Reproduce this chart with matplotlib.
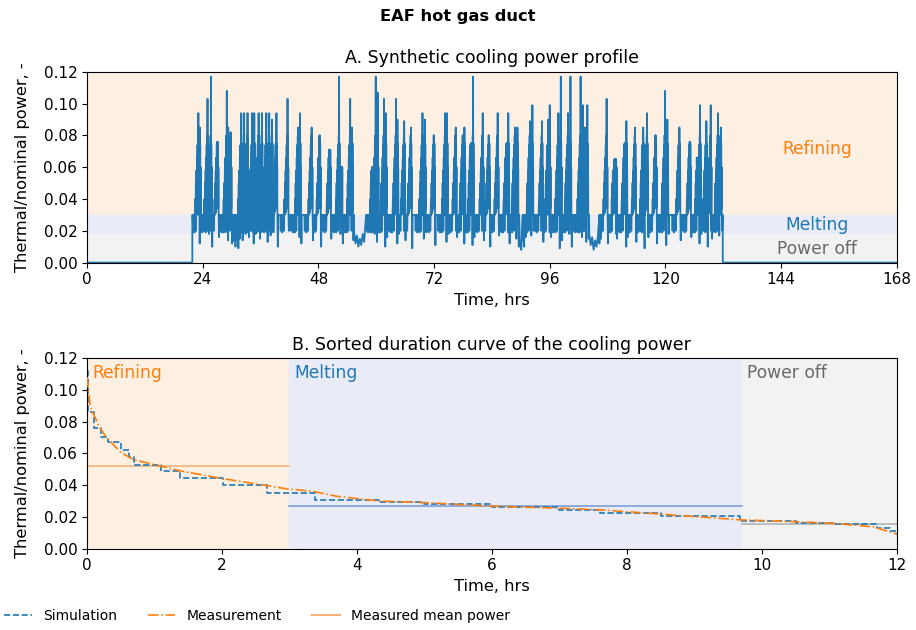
import numpy as np
import matplotlib
matplotlib.use("Agg")
import matplotlib.pyplot as plt
from matplotlib.lines import Line2D

plt.rcParams['font.size'] = 11

# --- A. synthetic profile: refining peaks (hrs, thermal/nominal)
spike_t = [23.1, 23.4, 25.0, 25.7, 27.1, 29.0, 29.3, 29.8,
           32.0, 32.6, 33.3, 34.3, 34.7, 35.6, 36.3, 37.2, 37.8, 38.4, 39.3,
           41.6, 43.8, 44.2, 46.6, 48.3, 50.4, 52.3, 52.8, 54.6, 55.0,
           59.4, 59.9, 60.3, 61.6, 62.0, 64.1, 64.4, 65.8, 67.2, 69.6, 70.1,
           72.0, 74.3, 74.7, 76.5, 78.0, 78.3, 79.7, 80.1, 82.1, 83.4, 85.2,
           87.1, 87.4, 88.8, 89.3, 91.9, 92.4, 94.4, 95.7, 96.0, 97.8, 98.3,
           99.8, 100.3, 102.4, 102.9, 103.3, 103.8,
           107.8, 109.5, 109.7, 111.6, 111.9, 113.7, 115.4, 116.2, 118.0,
           119.9, 120.4, 122.9, 125.1, 126.8, 127.2, 128.5, 129.4, 130.9, 131.5]
spike_peak = [0.094, 0.085, 0.103, 0.117, 0.076, 0.108, 0.085, 0.082,
              0.094, 0.094, 0.094, 0.094, 0.094, 0.094, 0.094, 0.094, 0.094, 0.090, 0.094,
              0.103, 0.085, 0.094, 0.085, 0.080, 0.071, 0.117, 0.060, 0.103, 0.085,
              0.060, 0.117, 0.107, 0.103, 0.094, 0.103, 0.090, 0.089, 0.085, 0.094, 0.090,
              0.080, 0.094, 0.094, 0.085, 0.080, 0.085, 0.075, 0.117, 0.094, 0.080, 0.094,
              0.075, 0.094, 0.085, 0.085, 0.089, 0.099, 0.089, 0.090, 0.099, 0.094, 0.117,
              0.094, 0.117, 0.117, 0.099, 0.085, 0.099,
              0.103, 0.058, 0.065, 0.075, 0.089, 0.085, 0.085, 0.094, 0.080,
              0.108, 0.090, 0.085, 0.076, 0.066, 0.099, 0.089, 0.099, 0.094, 0.085]
spike_dip = [0.012, 0.020, 0.018, 0.010, 0.016, 0.014, 0.020, 0.012,
             0.014, 0.018, 0.016, 0.012, 0.018, 0.015, 0.020, 0.013, 0.017, 0.019, 0.010,
             0.020, 0.016, 0.012, 0.014, 0.010, 0.015, 0.018, 0.012, 0.020, 0.014,
             0.018, 0.013, 0.019, 0.010, 0.016, 0.012, 0.018, 0.014, 0.009, 0.015, 0.019,
             0.011, 0.013, 0.018, 0.016, 0.012, 0.019, 0.011, 0.016, 0.014, 0.010, 0.017,
             0.019, 0.012, 0.015, 0.010, 0.017, 0.020, 0.013, 0.019, 0.016, 0.009, 0.014,
             0.018, 0.010, 0.016, 0.020, 0.013, 0.015,
             0.012, 0.018, 0.015, 0.010, 0.016, 0.013, 0.009, 0.016, 0.012,
             0.011, 0.018, 0.014, 0.016, 0.012, 0.018, 0.010, 0.015, 0.017, 0.020]
# idle stretches between sequences (low power)
idle_t = [30.2, 30.5, 30.8, 31.1, 31.4, 31.7,
          55.4, 55.7, 56.0, 56.3, 56.6, 56.9, 57.2, 57.5,
          89.8, 90.1, 90.4, 90.7, 91.0,
          104.2, 104.5, 104.8, 105.1, 105.4, 105.7, 106.0, 106.3, 106.6, 107.0]
idle_v = [0.013, 0.016, 0.010, 0.014, 0.009, 0.015,
          0.020, 0.012, 0.017, 0.010, 0.015, 0.011, 0.018, 0.013,
          0.012, 0.008, 0.014, 0.010, 0.016,
          0.018, 0.011, 0.016, 0.008, 0.014, 0.010, 0.017, 0.012, 0.015, 0.020]
run_on, run_off = 21.85, 131.9

# shape of one heat around its refining peak (hrs offset, level); None -> peak, 'dip' -> dip
heat_shape = [(-1.5, 0.03), (-1.42, 0.02), (-1.34, 0.03), (-1.26, 0.022), (-1.18, 0.03),
              (-1.1, 0.019), (-1.02, 0.03), (-0.94, 0.021), (-0.86, 0.03), (-0.78, 0.02),
              (-0.7, 0.03), (-0.64, 0.04), (-0.58, 0.03), (-0.52, 0.05), (-0.46, 0.031),
              (-0.4, 0.058), (-0.35, 0.032), (-0.29, 0.066), (-0.24, 0.034), (-0.18, 0.074),
              (-0.13, 0.036), (-0.07, 0.08), (-0.03, 0.04), (0.0, None), (0.04, 0.036),
              (0.08, 0.075), (0.12, 0.034), (0.16, 0.06), (0.2, 0.03), (0.28, 'dip'),
              (0.36, 0.03)]

# --- B. sorted duration curves
meas_t = [0, 0.05, 0.19, 0.29, 0.49, 0.69, 0.89, 1.38, 1.97, 2.47, 2.96, 3.36, 3.7,
          4.34, 5.0, 6.0, 7.0, 7.6, 8.5, 9.67, 10.5, 11.05, 11.65, 12]
meas_v = [0.108, 0.089, 0.076, 0.070, 0.061, 0.056, 0.054, 0.049, 0.0444, 0.041, 0.0377,
          0.036, 0.033, 0.030, 0.029, 0.0268, 0.0255, 0.0245, 0.0218, 0.0182, 0.017,
          0.016, 0.0138, 0.0092]
sim_t = [0, 0.02, 0.1, 0.2, 0.31, 0.5, 0.62, 0.69, 1.09, 1.38, 2.02, 2.66, 3.38, 4.34,
         5.0, 6.0, 7.0, 7.6, 8.5, 9.67, 10.5, 11.05, 11.7, 11.9, 12]
sim_v = [0.112, 0.086, 0.076, 0.070, 0.067, 0.062, 0.058, 0.0528, 0.0486, 0.0444, 0.0398,
         0.035, 0.0304, 0.0295, 0.028, 0.0262, 0.0245, 0.0224, 0.0205, 0.0176, 0.0162,
         0.0155, 0.013, 0.011, 0.0084]
mode_names = ['Refining', 'Melting', 'Power off']
mode_span = [(0, 3.0), (3.0, 9.7), (9.7, 12)]
mode_mean = [0.052, 0.0266, 0.0157]
mode_level = [(0.03, 0.12), (0.018, 0.03), (0, 0.018)]

band_col = ['#fdf0e3', '#e9ecf6', '#f2f2f2']
text_col = ['C1', 'C0', 'dimgray']
mean_col = ['#f6b27a', '#7d9fd9', '#b3b3b3']

# build the profile polyline
pts = [(0, 0), (run_on, 0), (run_on, 0.03)]
for t, p, d in zip(spike_t, spike_peak, spike_dip):
    for off, lvl in heat_shape:
        if lvl is None:
            v = p
        elif lvl == 'dip':
            v = d
        else:
            v = min(lvl, p)
        if t + off > run_on:
            pts.append((t + off, v))
pts += list(zip(idle_t, idle_v))
pts.sort(key=lambda q: q[0])
pts += [(run_off, 0.03), (run_off, 0), (168, 0)]
prof_t = [q[0] for q in pts]
prof_v = [q[1] for q in pts]

fig, (ax1, ax2) = plt.subplots(2, 1, figsize=(9.16, 6.3), dpi=100)
fig.subplots_adjust(left=0.095, right=0.979, top=0.886, bottom=0.129, hspace=0.5)
fig.suptitle('EAF hot gas duct', fontweight='bold', fontsize=11.7, y=0.985)

for (lo, hi), c in zip(mode_level, band_col):
    ax1.axhspan(lo, hi, color=c, zorder=0)
ax1.plot(prof_t, prof_v, color='C0', lw=1.3)
ax1.text(151.5, 0.0715, 'Refining', color=text_col[0], ha='center', va='center', fontsize=12.3)
ax1.text(151.5, 0.0235, 'Melting', color=text_col[1], ha='center', va='center', fontsize=12.3)
ax1.text(151.5, 0.0088, 'Power off', color=text_col[2], ha='center', va='center', fontsize=12.3)
ax1.set_xlim(0, 168)
ax1.set_ylim(0, 0.12)
ax1.set_xticks(np.arange(0, 169, 24))
ax1.set_yticks(np.arange(0, 0.121, 0.02))
ax1.set_title('A. Synthetic cooling power profile', fontsize=12.5)
ax1.set_xlabel('Time, hrs', fontsize=11.7)
ax1.set_ylabel('Thermal/nominal power, -', fontsize=11.7, labelpad=10)

for (a, b), c, mc, m, name, tc in zip(mode_span, band_col, mean_col, mode_mean, mode_names, text_col):
    ax2.axvspan(a, b, color=c, zorder=0)
    ax2.plot([a, b], [m, m], color=mc, lw=1.2, zorder=1)
    ax2.text(a + 0.08, 0.1165, name, color=tc, ha='left', va='top', fontsize=12.3)
ax2.plot(sim_t, sim_v, color='C0', ls='--', lw=1.2, drawstyle='steps-post', zorder=2)
ax2.plot(meas_t, meas_v, color='C1', ls='-.', lw=1.2, zorder=3)
ax2.set_xlim(0, 12)
ax2.set_ylim(0, 0.12)
ax2.set_yticks(np.arange(0, 0.121, 0.02))
ax2.set_title('B. Sorted duration curve of the cooling power', fontsize=12.5)
ax2.set_xlabel('Time, hrs', fontsize=11.7)
ax2.set_ylabel('Thermal/nominal power, -', fontsize=11.7, labelpad=10)

handles = [Line2D([], [], color='C0', ls='--', lw=1.2),
           Line2D([], [], color='C1', ls='-.', lw=1.2),
           Line2D([], [], color=mean_col[0], lw=1.5)]
fig.legend(handles, ['Simulation', 'Measurement', 'Measured mean power'],
           loc='lower left', bbox_to_anchor=(-0.009, -0.008), ncol=3, frameon=False,
           fontsize=10, columnspacing=2.2)

fig.savefig('out.png', dpi=100)
